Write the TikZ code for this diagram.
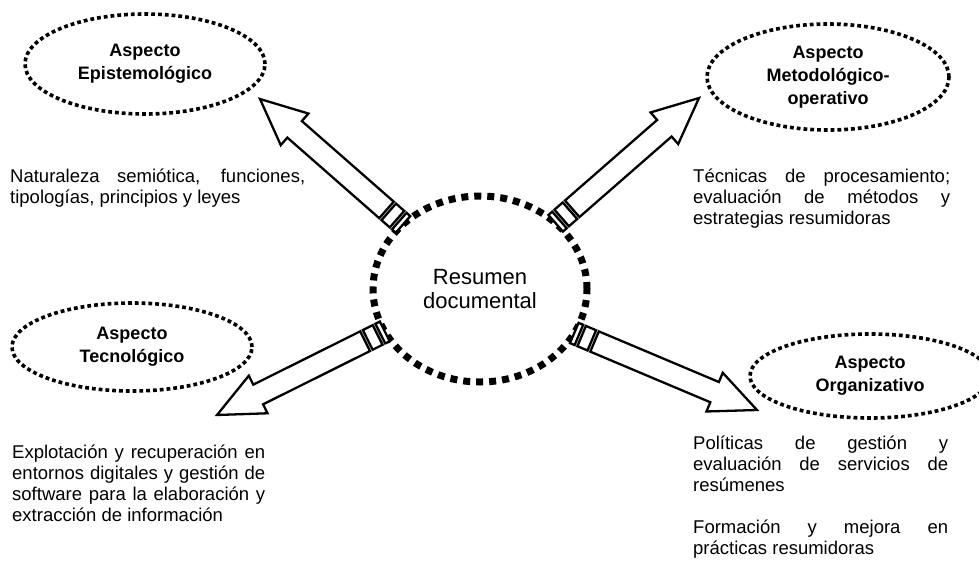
\documentclass[tikz,border=0pt]{standalone}
\usepackage{fontspec}
\setmainfont{Liberation Sans}
\usetikzlibrary{calc}
\usetikzlibrary{shapes.geometric}

\tolerance=10000
\hyphenpenalty=10000

% striped block arrow from #1 (tail) to #2 (tip)
\newcommand{\stripedarrow}[2]{%
  \path let \p1 = ($(#2)-(#1)$) in
    \pgfextra{\pgfmathsetmacro{\arrang}{atan2(\y1,\x1)}%
      \pgfmathsetmacro{\arrlen}{veclen(\x1,\y1)}%
      \xdef\arrAng{\arrang}\xdef\arrLen{\arrlen}};
  \draw[blockarrow, shift={(#1)}, rotate=\arrAng]
    (0,-11) rectangle (5,11)
    (8,-11) rectangle (19,11)
    (22,-11) -- ({\arrLen-46},-11) -- ({\arrLen-46},-21) -- ({\arrLen},0)
    -- ({\arrLen-46},21) -- ({\arrLen-46},11) -- (22,11) -- cycle;
}

\tikzset{
  aspect/.style={ellipse, draw, line width=3.6pt, dash pattern=on 3.8pt off 3pt,
    inner sep=0pt, outer sep=0pt, align=center,
    font=\fontsize{18}{23}\selectfont\bfseries},
  core/.style={ellipse, draw, line width=7pt, dash pattern=on 7pt off 6pt,
    inner sep=0pt, outer sep=0pt, align=center,
    minimum width=214pt, minimum height=186pt,
    font=\fontsize{22}{24}\selectfont},
  blockarrow/.style={draw, fill=white, line width=2.3pt, line join=miter},
  note/.style={anchor=base west, inner sep=0pt, align=justify,
    font=\fontsize{18.5}{21}\selectfont},
}

\begin{document}
\begin{tikzpicture}[x=1pt,y=-1pt]
  \useasboundingbox (0,0) rectangle (979,560);

  % the four aspects
  \node[aspect, minimum width=240pt, minimum height=100pt] (epi) at (145,64) {Aspecto\\Epistemológico};
  \node[aspect, minimum width=242pt, minimum height=106pt] (met) at (828,77) {Aspecto\\Metodológico-\\operativo};
  \node[aspect, minimum width=240pt, minimum height=88pt] (tec) at (132,347) {Aspecto\\Tecnológico};
  \node[aspect, minimum width=240pt, minimum height=84pt] (org) at (870,376) {Aspecto\\Organizativo};

  % centre
  \node[core] (res) at (480,289) {Resumen\\documental};

  \coordinate (A1) at (res.140);
  \coordinate (A2) at (res.41);
  \coordinate (A3) at (res.204);
  \coordinate (A4) at (res.335);
  \coordinate (T1) at (260,99);
  \coordinate (T2) at (699,98);
  \coordinate (T3) at (217,415);
  \coordinate (T4) at (757,410);

  \stripedarrow{A1}{T1}
  \stripedarrow{A2}{T2}
  \stripedarrow{A3}{T3}
  \stripedarrow{A4}{T4}

  % descriptions
  \node[note, text width=295pt] (natu) at (10,182) {Naturaleza semiótica, funciones, tipologías, principios y leyes};
  \node[note, text width=257pt] (tecn) at (693,182) {Técnicas de procesamiento; evaluación de métodos y estrategias resumidoras};
  \node[note, text width=253pt] (expl) at (12,458) {Explotación y recuperación en entornos digitales y gestión de software para la elaboración y extracción de información};
  \node[note, text width=255pt] (poli) at (693,449) {Políticas de gestión y evaluación de servicios de resúmenes\par\vspace{21pt}Formación y mejora en prácticas resumidoras};
\end{tikzpicture}
\end{document}
